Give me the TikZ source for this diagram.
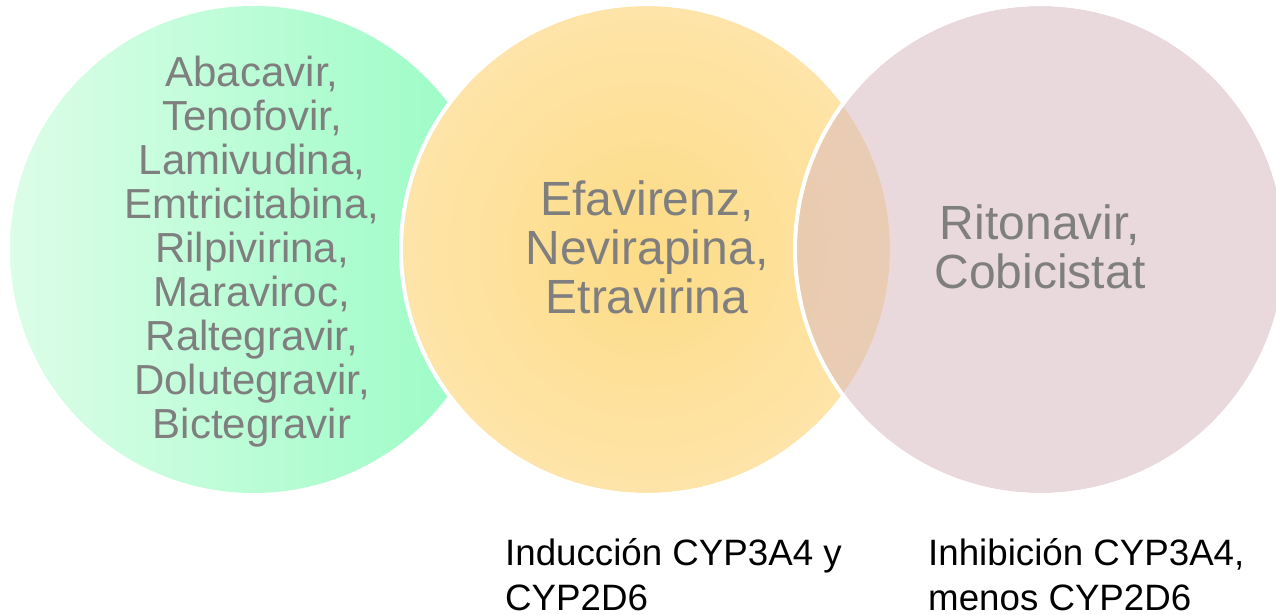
\documentclass[tikz,border=0pt]{standalone}
\usepackage{fontspec}
\setmainfont{Liberation Sans}
\definecolor{txtgray}{HTML}{7F7F7F}
\definecolor{grL}{HTML}{DCFDE8}
\definecolor{grR}{HTML}{98FCC4}
\definecolor{yeC}{HTML}{FDDC86}
\definecolor{yeE}{HTML}{FFEAC3}
\definecolor{pk}{RGB}{217,186,191}
\pgfdeclareradialshading{yelshade}{\pgfpoint{0bp}{0bp}}{color(0bp)=(yeC); color(44bp)=(yeE); color(50bp)=(yeE)}
\begin{document}
\begin{tikzpicture}[x=1pt,y=-1pt,
  bigtxt/.style={font=\fontsize{48}{49}\selectfont, text=txtgray, align=center, inner sep=0pt, anchor=base},
  greentxt/.style={font=\fontsize{42}{44}\selectfont, text=txtgray, align=center, inner sep=0pt, anchor=base},
  notetxt/.style={font=\fontsize{36.7}{45}\selectfont, text=black, align=left, inner sep=0pt, anchor=base west},
  ring/.style={draw=white, line width=4pt}]
\useasboundingbox (0,0) rectangle (1276,615);
% circles
\shade[left color=grL, right color=grR] (253.5,249.5) circle (243.5);
\shade[shading=yelshade] (646.5,249.5) circle (243.5);
\draw[ring] (646.5,249.5) circle (245.5);
\fill[pk, opacity=0.55] (1040.5,249.5) circle (243.5);
\draw[ring] (1040.5,249.5) circle (245.5);
% texts (anchor=base is the baseline of the last line)
\node[greentxt] (nrti) at (252,438) {Abacavir,\\Tenofovir,\\Lamivudina,\\Emtricitabina,\\Rilpivirina,\\Maraviroc,\\Raltegravir,\\Dolutegravir,\\Bictegravir};
\node[bigtxt] (nnrti) at (647,313) {Efavirenz,\\Nevirapina,\\Etravirina};
\node[bigtxt] (boost) at (1040,288) {Ritonavir,\\Cobicistat};
\node[notetxt] (induc) at (505,610) {Inducción CYP3A4 y\\CYP2D6};
\node[notetxt] (inhib) at (928,610) {Inhibición CYP3A4,\\menos CYP2D6};
\end{tikzpicture}
\end{document}
